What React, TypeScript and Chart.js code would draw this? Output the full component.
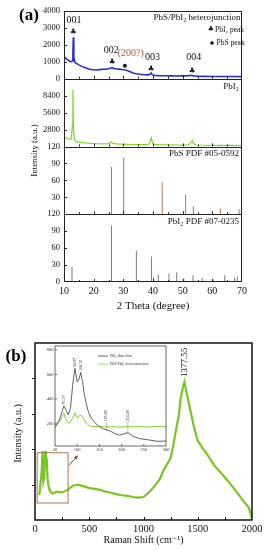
import React, { useEffect, useRef } from 'react';
import { Chart, registerables } from 'chart.js';
Chart.register(...registerables);

const SERIF = "'Liberation Serif', 'DejaVu Serif', serif";
const SYMBOL = "'DejaVu Sans', sans-serif";

// ---------------- Panel (a): XRD ----------------
const thetaTicks = [10, 20, 30, 40, 50, 60, 70];
const hetTicks = [0, 1000, 2000, 3000, 4000];
const filmTicks = [0, 2800, 5600, 8400];
const pdfTicks = [0, 30, 60, 90, 120];

const heteroTheta = [10, 10.5, 11, 11.5, 12, 12.5, 12.8, 13.0, 13.15, 13.3, 13.6, 14, 15, 16, 17, 18, 19, 20, 21, 22, 23, 24, 25, 25.7, 26.2, 26.7, 27.5, 28.5, 29.5, 30.5, 31.5, 32.5, 33.5, 34.5, 35.5, 36.5, 37.5, 38.5, 39.0, 39.4, 39.8, 40.5, 42, 44, 46, 48, 50, 52, 52.8, 53.3, 53.8, 55, 57, 60, 63, 66, 70];
const heteroIntensity = [1310, 1230, 1150, 1080, 1030, 1010, 1050, 1500, 2450, 1300, 1000, 920, 820, 730, 660, 600, 550, 530, 520, 540, 560, 570, 590, 620, 665, 610, 590, 570, 550, 530, 470, 400, 330, 295, 270, 250, 235, 230, 260, 335, 240, 200, 185, 175, 170, 165, 170, 180, 200, 195, 170, 150, 140, 135, 132, 130, 128];

const filmTheta = [10, 10.5, 11, 11.5, 12, 12.5, 12.8, 13.0, 13.2, 13.5, 14, 15, 17, 20, 23, 25, 25.6, 26.0, 26.5, 27.5, 30, 33, 36, 38.5, 39.0, 39.4, 39.8, 40.3, 42, 45, 48, 50, 52, 52.7, 53.2, 53.7, 54.5, 58, 62, 66, 70];
const filmIntensity = [1600, 1450, 1330, 1250, 1200, 1250, 3500, 9400, 3000, 1100, 850, 720, 600, 500, 450, 470, 600, 720, 520, 420, 370, 330, 310, 330, 800, 1450, 700, 360, 300, 270, 250, 230, 260, 600, 1000, 450, 250, 210, 180, 170, 160];

const pbsPdfTheta = [26.0, 30.1, 43.1, 51.0, 53.6, 62.7, 69.0];
const pbsPdfIntensity = [84, 100, 57, 35, 14, 10, 9];

const pbi2PdfTheta = [12.7, 26.0, 34.4, 39.5, 40.2, 41.8, 45.4, 48.0, 50.4, 53.5, 56.6, 60.3, 64.2, 67.5, 68.4];
const pbi2PdfIntensity = [27, 100, 55, 45, 8, 13, 15, 17, 6, 12, 7, 4, 12, 7, 10];

const pbi2PeakTheta = [13.15, 26.2, 39.4, 53.2];
const pbi2PeakMark = [2765, 980, 570, 470];
const pbsPeakTheta = [30.5];
const pbsPeakMark = [765];

const peakLabels = ['001', '002', '(200?)', '003', '004'];
const peakLabelTheta = [13.4, 25.9, 32.5, 39.8, 53.7];
const peakLabelY = [3470, 1700, 1470, 1290, 1235];

// ---------------- Panel (b): Raman ----------------
const ramanTicks = [0, 500, 1000, 1500, 2000];
const ramanYTicks = [0, 1, 2, 3, 4, 5];
const ramanShift = [40, 50, 60, 70, 78, 85, 95, 100, 108, 115, 125, 140, 160, 200, 250, 300, 350, 400, 450, 500, 550, 600, 650, 700, 750, 800, 850, 900, 950, 1000, 1050, 1100, 1150, 1185, 1250, 1280, 1300, 1325, 1343, 1360, 1377, 1400, 1435, 1460, 1497, 1550, 1590, 1650, 1700, 1744, 1800, 1867, 1930, 1970, 2000];
const ramanIntensity = [0.7, 1.0, 1.3, 1.95, 1.1, 1.2, 1.95, 1.5, 1.75, 1.2, 0.95, 0.8, 0.75, 0.8, 0.78, 0.85, 0.97, 1.0, 0.95, 0.9, 0.88, 0.85, 0.8, 0.77, 0.73, 0.7, 0.68, 0.65, 0.63, 0.65, 0.78, 0.95, 1.15, 1.41, 1.75, 2.2, 2.55, 2.95, 3.45, 3.7, 3.9, 3.55, 3.06, 2.7, 2.26, 2.0, 1.84, 1.55, 1.38, 1.22, 1.02, 0.76, 0.5, 0.35, 0.05];
const ramanPeak = 1377.55;

const insetXTicks = [50, 100, 150, 200, 250, 300];
const insetYTicks = [200, 400, 600, 800];
const insetShift = [50, 55, 60, 65, 70, 75, 80, 85, 90, 95, 100, 104, 108, 112, 116, 120, 125, 130, 140, 150, 160, 165, 175, 185, 195, 205, 214, 225, 240, 260, 280, 300];
const insetFilm = [168, 200, 232, 290, 344, 310, 272, 330, 520, 648, 540, 560, 616, 540, 440, 368, 300, 256, 208, 176, 158, 152, 140, 120, 108, 118, 128, 100, 80, 70, 58, 60];
const insetHetero = [192, 200, 215, 250, 288, 230, 205, 215, 250, 288, 250, 262, 272, 255, 232, 210, 190, 180, 176, 178, 176, 174, 176, 178, 172, 176, 178, 175, 177, 174, 178, 176];
const insetPeakShift = [70.17, 94.97, 108.12];
const insetPeakValue = [344, 648, 616];
const insetMarkShift = [165.69, 214.26];
const insetMarkFrom = [152, 128];
const insetMarkTo = 212;

// ---------------- helpers ----------------
const pts = (xs: number[], ys: number[]) => xs.map((x, i) => ({ x, y: ys[i] }));
const sticks = (xs: number[], ys: number[]) =>
  xs.flatMap((x, i) => [{ x, y: 0 }, { x, y: ys[i] }, { x, y: null as any }]);
const fixTicks = (values: number[]) => (s: any) => {
  s.ticks = values.map((value) => ({ value }));
};

function line(ctx: CanvasRenderingContext2D, x1: number, y1: number, x2: number, y2: number) {
  ctx.beginPath();
  ctx.moveTo(x1, y1);
  ctx.lineTo(x2, y2);
  ctx.stroke();
}
function vText(ctx: CanvasRenderingContext2D, text: string, x: number, y: number, font: string, color: string, align: CanvasTextAlign = 'left') {
  ctx.save();
  ctx.translate(x, y);
  ctx.rotate(-Math.PI / 2);
  ctx.font = font;
  ctx.fillStyle = color;
  ctx.textAlign = align;
  ctx.textBaseline = 'middle';
  ctx.fillText(text, 0, 0);
  ctx.restore();
}
function hText(ctx: CanvasRenderingContext2D, text: string, x: number, y: number, font: string, color: string, align: CanvasTextAlign = 'center') {
  ctx.font = font;
  ctx.fillStyle = color;
  ctx.textAlign = align;
  ctx.textBaseline = 'middle';
  ctx.fillText(text, x, y);
}

const noGrid = { display: false, drawTicks: false };

const yPanel = (min: number, max: number, values: number[], show: (v: number) => boolean) => ({
  type: 'linear',
  min,
  max,
  stack: 'xrd',
  stackWeight: 1,
  offset: false,
  grid: noGrid,
  border: { display: false },
  afterBuildTicks: fixTicks(values),
  ticks: {
    autoSkip: false,
    padding: 4,
    color: '#111',
    font: { family: SERIF, size: 8.5 },
    callback: (v: any) => (show(Number(v)) ? String(v) : ''),
  },
  afterFit: (s: any) => {
    s.width = 64;
  },
});

const xrdDecor = {
  id: 'xrdDecor',
  afterDatasetsDraw(chart: any) {
    const { ctx, chartArea: a, scales } = chart;
    const x = scales.x;
    const ys = [scales.yHet, scales.yFilm, scales.yPbS, scales.yPbI2];
    ctx.save();
    ctx.strokeStyle = '#222';
    ctx.lineWidth = 1;
    ctx.strokeRect(a.left + 0.5, a.top + 0.5, a.right - a.left - 1, a.bottom - a.top - 1);
    ys.forEach((s: any) => {
      if (s.bottom < a.bottom - 2) line(ctx, a.left, Math.round(s.bottom) + 0.5, a.right, Math.round(s.bottom) + 0.5);
      s.ticks.forEach((t: any) => {
        const py = s.getPixelForValue(t.value);
        if (py > s.top + 1 && py < s.bottom - 1) line(ctx, a.left, Math.round(py) + 0.5, a.left + 3, Math.round(py) + 0.5);
      });
      for (let v = x.min; v <= x.max; v += 5) {
        const px = Math.round(x.getPixelForValue(v)) + 0.5;
        if (px < a.left + 1 || px > a.right - 1) continue;
        line(ctx, px, s.bottom, px, s.bottom - (v % 10 === 0 ? 3 : 2));
      }
    });

    const yH = scales.yHet;
    pbi2PeakTheta.forEach((t, i) => {
      hText(ctx, '♣', x.getPixelForValue(t), yH.getPixelForValue(pbi2PeakMark[i]), `7.5px ${SYMBOL}`, '#111');
    });
    pbsPeakTheta.forEach((t, i) => {
      ctx.fillStyle = '#111';
      ctx.beginPath();
      ctx.arc(x.getPixelForValue(t), yH.getPixelForValue(pbsPeakMark[i]), 2, 0, Math.PI * 2);
      ctx.fill();
    });
    peakLabels.forEach((txt, i) => {
      hText(ctx, txt, x.getPixelForValue(peakLabelTheta[i]), yH.getPixelForValue(peakLabelY[i]), `10px ${SERIF}`, txt.startsWith('(') ? '#b5533f' : '#111');
    });
    // legend
    hText(ctx, 'PbS/PbI₂ heterojunction', a.right - 1.5, a.top + 7, `9px ${SERIF}`, '#111', 'right');
    hText(ctx, '♣', a.right - 31, a.top + 18.5, `7px ${SYMBOL}`, '#111');
    hText(ctx, 'PbI₂ peak', a.right - 27, a.top + 19, `7.5px ${SERIF}`, '#111', 'left');
    ctx.fillStyle = '#111';
    ctx.beginPath();
    ctx.arc(a.right - 30, a.top + 32, 1.8, 0, Math.PI * 2);
    ctx.fill();
    hText(ctx, 'PbS peak', a.right - 25.5, a.top + 32, `7.5px ${SERIF}`, '#111', 'left');
    // panel titles
    hText(ctx, 'PbI₂', a.right - 3, scales.yFilm.top + 8, `9px ${SERIF}`, '#111', 'right');
    hText(ctx, 'PbS PDF #05-0592', a.right - 3, scales.yPbS.top + 7, `9px ${SERIF}`, '#111', 'right');
    hText(ctx, 'PbI₂ PDF #07-0235', a.right - 3, scales.yPbI2.top + 7, `9px ${SERIF}`, '#111', 'right');
    // axis titles
    vText(ctx, 'Intensity (a.u.)', 35, (a.top + a.bottom) / 2 + 4, `9px ${SERIF}`, '#111', 'center');
    hText(ctx, '2 Theta (degree)', (a.left + a.right) / 2, 306, `11px ${SERIF}`, '#111');
    hText(ctx, '(a)', 29, 16, `bold 17px ${SERIF}`, '#000');
    ctx.restore();
  },
};

const ramanDecor = {
  id: 'ramanDecor',
  afterDatasetsDraw(chart: any) {
    const { ctx, chartArea: a, scales } = chart;
    const x = scales.x;
    const y = scales.y;
    ctx.save();
    ctx.strokeStyle = '#111';
    ctx.lineWidth = 1.5;
    ctx.strokeRect(a.left, a.top, a.right - a.left, a.bottom - a.top);
    ctx.lineWidth = 1;
    y.ticks.forEach((t: any) => {
      const py = Math.round(y.getPixelForValue(t.value)) + 0.5;
      if (py > a.top + 2 && py < a.bottom - 2) line(ctx, a.left - 3, py, a.left, py);
    });
    for (let v = x.min; v <= x.max; v += 250) {
      const px = Math.round(x.getPixelForValue(v)) + 0.5;
      if (px > a.left + 2 && px < a.right - 2) line(ctx, px, a.bottom, px, a.bottom - 3);
    }
    // zoom box and arrow
    ctx.strokeStyle = '#a8784c';
    ctx.lineWidth = 1;
    const bx1 = x.getPixelForValue(20), bx2 = x.getPixelForValue(305);
    const by1 = y.getPixelForValue(1.9), by2 = y.getPixelForValue(0.48);
    ctx.strokeRect(bx1, by1, bx2 - bx1, by2 - by1);
    const ax1 = x.getPixelForValue(315), ay1 = y.getPixelForValue(1.55);
    const ax2 = x.getPixelForValue(395), ay2 = y.getPixelForValue(1.82);
    ctx.strokeStyle = '#6b4a2a';
    line(ctx, ax1, ay1, ax2, ay2);
    const ang = Math.atan2(ay2 - ay1, ax2 - ax1);
    ctx.fillStyle = '#6b4a2a';
    ctx.beginPath();
    ctx.moveTo(ax2, ay2);
    ctx.lineTo(ax2 - 4 * Math.cos(ang - 0.45), ay2 - 4 * Math.sin(ang - 0.45));
    ctx.lineTo(ax2 - 4 * Math.cos(ang + 0.45), ay2 - 4 * Math.sin(ang + 0.45));
    ctx.closePath();
    ctx.fill();
    // peak label
    const peakIdx = ramanShift.indexOf(1377);
    vText(ctx, ramanPeak.toFixed(2), x.getPixelForValue(ramanPeak), y.getPixelForValue(ramanIntensity[peakIdx]) - 5, `9px ${SERIF}`, '#111', 'left');
    // titles
    vText(ctx, 'Intensity (a.u.)', 18, (a.top + a.bottom) / 2 + 2, `10px ${SERIF}`, '#111', 'center');
    hText(ctx, 'Raman Shift (cm⁻¹)', (a.left + a.right) / 2, 222, `10px ${SERIF}`, '#111');
    hText(ctx, '(b)', 16, 39, `bold 17px ${SERIF}`, '#000');
    ctx.restore();
  },
};

const insetDecor = {
  id: 'insetDecor',
  beforeDatasetsDraw(chart: any) {
    const { ctx, chartArea: a } = chart;
    ctx.save();
    ctx.fillStyle = '#fff';
    ctx.fillRect(a.left, a.top, a.right - a.left, a.bottom - a.top);
    ctx.restore();
  },
  afterDatasetsDraw(chart: any) {
    const { ctx, chartArea: a, scales } = chart;
    const x = scales.x;
    const y = scales.y;
    ctx.save();
    ctx.strokeStyle = '#444';
    ctx.lineWidth = 0.8;
    ctx.strokeRect(a.left, a.top, a.right - a.left, a.bottom - a.top);
    x.ticks.forEach((t: any) => {
      const px = x.getPixelForValue(t.value);
      if (px > a.left + 1 && px < a.right - 1) line(ctx, px, a.bottom, px, a.bottom - 2);
    });
    y.ticks.forEach((t: any) => {
      const py = y.getPixelForValue(t.value);
      if (py > a.top + 1 && py < a.bottom - 1) line(ctx, a.left, py, a.left + 2, py);
    });
    // legend
    ctx.lineWidth = 0.8;
    ctx.strokeStyle = '#3a3a3a';
    line(ctx, a.left + 43, a.top + 10, a.left + 53, a.top + 10);
    ctx.strokeStyle = '#86cf2e';
    line(ctx, a.left + 43, a.top + 18, a.left + 53, a.top + 18);
    hText(ctx, 'PbI₂ thin film', a.left + 55, a.top + 10, `4px ${SERIF}`, '#333', 'left');
    hText(ctx, 'PbS/PbI₂ heterojunction', a.left + 55, a.top + 18, `4px ${SERIF}`, '#333', 'left');
    // peak labels
    insetPeakShift.forEach((s, i) => {
      vText(ctx, s.toFixed(2), x.getPixelForValue(s), y.getPixelForValue(insetPeakValue[i]) - 1.5, `4px ${SERIF}`, '#222', 'left');
    });
    ctx.setLineDash([1, 1]);
    ctx.strokeStyle = '#333';
    ctx.lineWidth = 0.6;
    insetMarkShift.forEach((s, i) => {
      const px = x.getPixelForValue(s);
      line(ctx, px, y.getPixelForValue(insetMarkFrom[i]), px, y.getPixelForValue(insetMarkTo));
      vText(ctx, s.toFixed(2), px, y.getPixelForValue(insetMarkTo) - 1, `4px ${SERIF}`, '#222', 'left');
    });
    ctx.restore();
  },
};

export default function App() {
  const aRef = useRef<HTMLCanvasElement>(null);
  const bRef = useRef<HTMLCanvasElement>(null);
  const iRef = useRef<HTMLCanvasElement>(null);

  useEffect(() => {
    const common = {
      animation: false,
      responsive: false,
      events: [],
      plugins: { legend: { display: false }, tooltip: { enabled: false } },
    };

    const xrd = new Chart(aRef.current!, {
      type: 'line',
      data: {
        datasets: [
          { data: pts(heteroTheta, heteroIntensity), yAxisID: 'yHet', borderColor: '#2a2ad6', borderWidth: 1.6, pointRadius: 0, tension: 0 },
          { data: pts(filmTheta, filmIntensity), yAxisID: 'yFilm', borderColor: '#7fd12a', borderWidth: 1.2, pointRadius: 0, tension: 0 },
          { data: sticks(pbsPdfTheta, pbsPdfIntensity), yAxisID: 'yPbS', borderColor: '#b0705a', borderWidth: 1, pointRadius: 0, spanGaps: false },
          { data: sticks(pbi2PdfTheta, pbi2PdfIntensity), yAxisID: 'yPbI2', borderColor: '#7a7a7a', borderWidth: 1, pointRadius: 0, spanGaps: false },
        ] as any,
      },
      options: {
        ...common,
        layout: { padding: { top: 11, right: 27, left: 0, bottom: 0 } },
        scales: {
          x: {
            type: 'linear',
            min: 10,
            max: 70,
            position: 'bottom',
            grid: noGrid,
            border: { display: false },
            afterBuildTicks: fixTicks(thetaTicks),
            ticks: { padding: 3, color: '#111', font: { family: SERIF, size: 10 }, maxRotation: 0, autoSkip: false, callback: (v: any) => String(v) },
            afterFit: (s: any) => {
              s.height = 36;
            },
          },
          yPbI2: yPanel(0, 120, pdfTicks, () => true),
          yPbS: yPanel(0, 120, pdfTicks, (v) => v > 0),
          yFilm: yPanel(0, 11200, filmTicks, (v) => v > 0),
          yHet: yPanel(0, 4000, hetTicks, () => true),
        } as any,
      } as any,
      plugins: [xrdDecor],
    });

    const raman = new Chart(bRef.current!, {
      type: 'line',
      data: {
        datasets: [
          { data: pts(ramanShift, ramanIntensity), borderColor: '#78c61f', borderWidth: 2.2, pointRadius: 0, tension: 0 },
        ] as any,
      },
      options: {
        ...common,
        layout: { padding: { top: 25, right: 17, left: 0, bottom: 0 } },
        scales: {
          x: {
            type: 'linear',
            min: 0,
            max: 2000,
            grid: noGrid,
            border: { display: false },
            afterBuildTicks: fixTicks(ramanTicks),
            ticks: { padding: 3, color: '#111', font: { family: SERIF, size: 10.5 }, maxRotation: 0, autoSkip: false, callback: (v: any) => String(v) },
            afterFit: (s: any) => {
              s.height = 30;
            },
          },
          y: {
            type: 'linear',
            min: 0,
            max: 5,
            grid: noGrid,
            border: { display: false },
            afterBuildTicks: fixTicks(ramanYTicks),
            ticks: { display: false },
            afterFit: (s: any) => {
              s.width = 35;
            },
          },
        } as any,
      } as any,
      plugins: [ramanDecor],
    });

    const inset = new Chart(iRef.current!, {
      type: 'line',
      data: {
        datasets: [
          { data: pts(insetShift, insetFilm), borderColor: '#3a3a3a', borderWidth: 0.8, pointRadius: 0, tension: 0 },
          { data: pts(insetShift, insetHetero), borderColor: '#86cf2e', borderWidth: 1, pointRadius: 0, tension: 0 },
        ] as any,
      },
      options: {
        ...common,
        layout: { padding: { top: 6, right: 9, left: 0, bottom: 0 } },
        scales: {
          x: {
            type: 'linear',
            min: 50,
            max: 300,
            grid: noGrid,
            border: { display: false },
            afterBuildTicks: fixTicks(insetXTicks),
            ticks: { padding: 1.5, color: '#333', font: { family: SERIF, size: 4.5 }, maxRotation: 0, autoSkip: false, callback: (v: any) => String(v) },
            afterFit: (s: any) => {
              s.height = 9;
            },
          },
          y: {
            type: 'linear',
            min: 20,
            max: 830,
            grid: noGrid,
            border: { display: false },
            afterBuildTicks: fixTicks(insetYTicks),
            ticks: { padding: 1.5, color: '#333', autoSkip: false, font: { family: SERIF, size: 4.5 }, callback: (v: any) => String(v) },
            afterFit: (s: any) => {
              s.width = 15;
            },
          },
        } as any,
      } as any,
      plugins: [insetDecor],
    });

    return () => {
      xrd.destroy();
      raman.destroy();
      inset.destroy();
    };
  }, []);

  return (
    <div style={{ position: 'fixed', left: 0, top: 0, width: 269, height: 550, background: '#fff' }}>
      <canvas ref={aRef} width={269} height={318} style={{ position: 'absolute', left: 0, top: 0 }} />
      <canvas ref={bRef} width={269} height={232} style={{ position: 'absolute', left: 0, top: 318 }} />
      <canvas ref={iRef} width={135} height={115} style={{ position: 'absolute', left: 40, top: 340 }} />
    </div>
  );
}
